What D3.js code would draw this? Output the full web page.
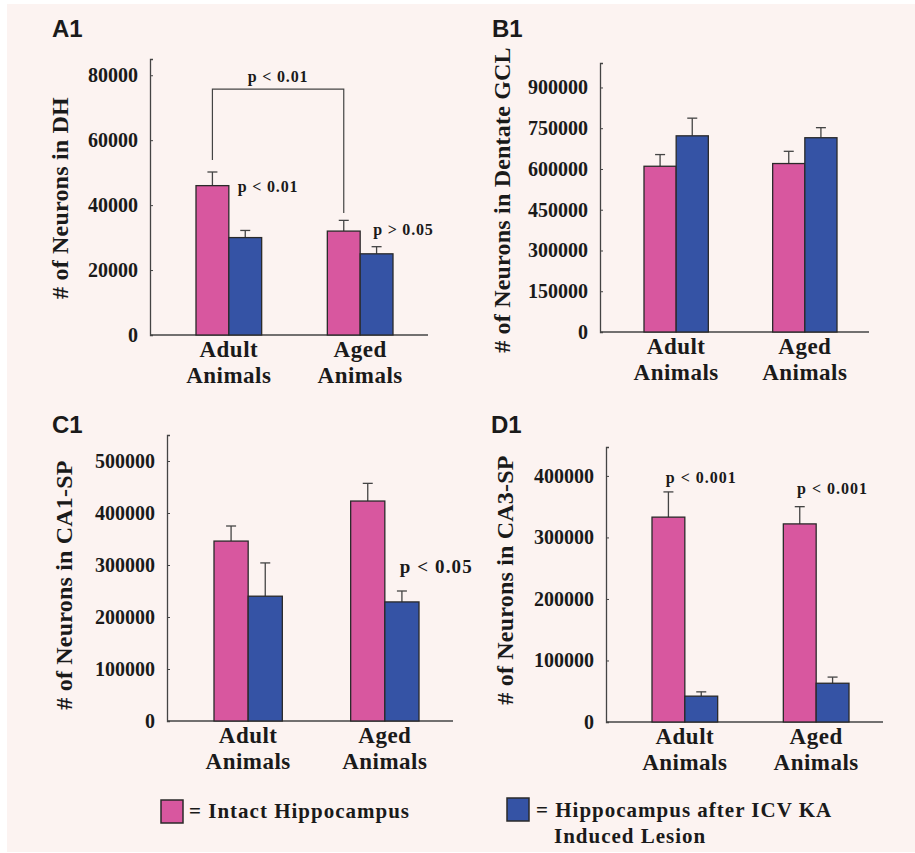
<!DOCTYPE html>
<html>
<head>
<meta charset="utf-8">
<script src="https://cdn.jsdelivr.net/npm/d3@7"></script>
<style>
  body { margin: 0; background: #fff; }
  text { fill: #1a1a1a; }
</style>
</head>
<body>
<div id="chart"></div>
<script>
// ---- data ----
const categories = ["Adult", "Aged"];
const series = ["intact", "lesion"];
const panelIds = ["A1", "B1", "C1", "D1"];
const yLabels = ["# of Neurons in DH", "# of Neurons in Dentate GCL", "# of Neurons in CA1-SP", "# of Neurons in CA3-SP"];
const yMaxes = [85000, 990000, 550000, 447000];
const yTicks = [
    [0, 20000, 40000, 60000, 80000],
    [0, 150000, 300000, 450000, 600000, 750000, 900000],
    [0, 100000, 200000, 300000, 400000, 500000],
    [0, 100000, 200000, 300000, 400000]
];
const intactMean = [[46000, 32000], [610000, 620000], [346000, 423000], [333000, 322000]];
const intactErr = [[4200, 3300], [43000, 45000], [29000, 34000], [41000, 28000]];
const lesionMean = [[30000, 25000], [722000, 715000], [240000, 229000], [42000, 63000]];
const lesionErr = [[2200, 2200], [65000, 37000], [64000, 21000], [7000, 10000]];
const legendLabels = ["= Intact Hippocampus", "= Hippocampus after ICV KA|Induced Lesion"];

// ---- layout ----
const W = 915, H = 853;
const colors = { intact: "#d8579f", lesion: "#3553a5" };
const serif = "'Liberation Serif', 'Times New Roman', serif";

// plot frames for each panel: y axis x, zero line, top of axis, right end of x axis, bar span
const frames = [
    { ax: 150, zero: 335, top: 59, right: 428, bars: [196, 393], letter: [52, 37], ylab: [68, 198] },
    { ax: 600, zero: 332, top: 63, right: 869, bars: [644, 837], letter: [492, 37], ylab: [510, 200] },
    { ax: 167, zero: 721, top: 435, right: 453, bars: [214, 419], letter: [52, 433], ylab: [72, 585] },
    { ax: 606, zero: 722, top: 447, right: 883, bars: [652, 849], letter: [491, 433], ylab: [513, 580] }
];

// p-value notes: panel, category, series the note sits by, y value, horizontal offset, anchor, size
const notes = [
    { p: 0, cat: "Adult", s: "lesion", v: 44000, dx: 9, anchor: "start", size: 16, ls: 0.8, text: "p < 0.01" },
    { p: 0, cat: "Aged", s: "lesion", v: 30800, dx: 13, anchor: "start", size: 16, ls: 0.8, text: "p > 0.05" },
    { p: 2, cat: "Aged", s: "lesion", v: 284600, dx: 15, anchor: "start", size: 19, ls: 1.1, text: "p < 0.05" },
    { p: 3, cat: "Adult", s: "lesion", v: 388500, dx: 0, anchor: "middle", size: 16, ls: 1, text: "p < 0.001", center: true },
    { p: 3, cat: "Aged", s: "lesion", v: 370600, dx: 0, anchor: "middle", size: 16, ls: 1, text: "p < 0.001", center: true }
];

const svg = d3.select("#chart").append("svg")
    .attr("width", W)
    .attr("height", H);

svg.append("rect")
    .attr("x", 7).attr("y", 4)
    .attr("width", W - 7).attr("height", 848)
    .attr("fill", "#fcf3f1");

panelIds.forEach(function(id, pi) {
    const f = frames[pi];
    const g = svg.append("g");

    const y = d3.scaleLinear().domain([0, yMaxes[pi]]).range([f.zero, f.top]);
    const x = d3.scaleBand().domain(categories).range(f.bars).paddingInner(0.5).paddingOuter(0);
    const xs = d3.scaleBand().domain(series).range([0, x.bandwidth()]);

    // axes (short ticks pointing inward)
    const yAxis = d3.axisLeft(y).tickValues(yTicks[pi]).tickSize(-3).tickPadding(12).tickFormat(d3.format("d"));
    const ya = g.append("g").attr("transform", "translate(" + f.ax + ",0)").call(yAxis);
    ya.select(".domain").attr("stroke", "#444").attr("stroke-width", 1.3);
    ya.selectAll(".tick line").attr("stroke", "#444").attr("stroke-width", 1);
    ya.selectAll("text")
        .style("font-family", serif).style("font-weight", "bold")
        .style("font-size", "20px")
        .attr("fill", "#1a1a1a");

    g.append("line")
        .attr("x1", f.ax).attr("x2", f.right)
        .attr("y1", f.zero).attr("y2", f.zero)
        .attr("stroke", "#444").attr("stroke-width", 1.3);

    // bars with error bars
    const rows = [];
    categories.forEach(function(c, ci) {
        rows.push({ cat: c, s: "intact", v: intactMean[pi][ci], e: intactErr[pi][ci] });
        rows.push({ cat: c, s: "lesion", v: lesionMean[pi][ci], e: lesionErr[pi][ci] });
    });

    const err = g.selectAll(".err").data(rows).enter().append("g").attr("class", "err");
    err.append("line")
        .attr("x1", d => x(d.cat) + xs(d.s) + xs.bandwidth() / 2)
        .attr("x2", d => x(d.cat) + xs(d.s) + xs.bandwidth() / 2)
        .attr("y1", d => y(d.v))
        .attr("y2", d => y(d.v + d.e))
        .attr("stroke", "#444").attr("stroke-width", 1.3);
    err.append("line")
        .attr("x1", d => x(d.cat) + xs(d.s) + xs.bandwidth() / 2 - 5)
        .attr("x2", d => x(d.cat) + xs(d.s) + xs.bandwidth() / 2 + 5)
        .attr("y1", d => y(d.v + d.e))
        .attr("y2", d => y(d.v + d.e))
        .attr("stroke", "#444").attr("stroke-width", 1.3);

    g.selectAll(".bar").data(rows).enter().append("rect")
        .attr("class", "bar")
        .attr("x", d => x(d.cat) + xs(d.s))
        .attr("y", d => y(d.v))
        .attr("width", xs.bandwidth())
        .attr("height", d => y(0) - y(d.v))
        .attr("fill", d => colors[d.s])
        .attr("stroke", "#2a2a2a").attr("stroke-width", 1.3);

    // category labels
    const cl = g.selectAll(".cat").data(categories).enter().append("text")
        .attr("class", "cat")
        .attr("x", d => x(d) + x.bandwidth() / 2)
        .attr("text-anchor", "middle")
        .style("font-family", serif).style("font-weight", "bold")
        .style("font-size", "23px").style("letter-spacing", "0.5px");
    cl.append("tspan").attr("x", d => x(d) + x.bandwidth() / 2).attr("y", f.zero + 22).text(d => d);
    cl.append("tspan").attr("x", d => x(d) + x.bandwidth() / 2).attr("y", f.zero + 48).text("Animals");

    // y label
    g.append("text")
        .attr("transform", "translate(" + f.ylab[0] + "," + f.ylab[1] + ") rotate(-90)")
        .attr("text-anchor", "middle")
        .style("font-family", serif).style("font-weight", "bold")
        .style("font-size", "24px").style("letter-spacing", "0.2px")
        .text(yLabels[pi]);

    // panel letter
    g.append("text")
        .attr("x", f.letter[0]).attr("y", f.letter[1])
        .style("font-family", "'Liberation Sans', Arial, sans-serif")
        .style("font-size", "24px").style("font-weight", "bold")
        .text(id);

    // p-value notes
    notes.filter(n => n.p === pi).forEach(function(n) {
        const bx = x(n.cat) + xs(n.s) + (n.center ? xs.bandwidth() / 2 : 0);
        g.append("text")
            .attr("x", bx + n.dx).attr("y", y(n.v))
            .attr("text-anchor", n.anchor)
            .style("font-family", serif).style("font-weight", "bold")
            .style("font-size", n.size + "px").style("letter-spacing", n.ls + "px")
            .text(n.text);
    });

    // bracket between adult and aged intact bars in A1
    if (pi === 0) {
        const lx = x("Adult") + xs("intact") + xs.bandwidth() / 2;
        const rx = x("Aged") + xs("intact") + xs.bandwidth() / 2;
        const path = d3.path();
        path.moveTo(lx, y(53900));
        path.lineTo(lx, y(75700));
        path.lineTo(rx, y(75700));
        path.lineTo(rx, y(37600));
        g.append("path").attr("d", path.toString())
            .attr("fill", "none").attr("stroke", "#444").attr("stroke-width", 1.2);
        g.append("text")
            .attr("x", (lx + rx) / 2).attr("y", y(77900))
            .attr("text-anchor", "middle")
            .style("font-family", serif).style("font-weight", "bold")
            .style("font-size", "16px").style("letter-spacing", "0.8px")
            .text("p < 0.01");
    }
});

// legend
const legendPos = [{ x: 161, y: 800, tx: 189, ty: 818 }, { x: 507, y: 798, tx: 536, ty: 817 }];
series.forEach(function(s, i) {
    const p = legendPos[i];
    svg.append("rect")
        .attr("x", p.x).attr("y", p.y).attr("width", 22).attr("height", 23)
        .attr("fill", colors[s]).attr("stroke", "#2a2a2a").attr("stroke-width", 1.5);
    const parts = legendLabels[i].split("|");
    const t = svg.append("text")
        .style("font-family", serif).style("font-weight", "bold")
        .style("font-size", "21px").style("letter-spacing", "1px");
    parts.forEach(function(line, li) {
        t.append("tspan").attr("x", li === 0 ? p.tx : p.tx + 18).attr("y", p.ty + li * 26).text(line);
    });
});
</script>
</body>
</html>
